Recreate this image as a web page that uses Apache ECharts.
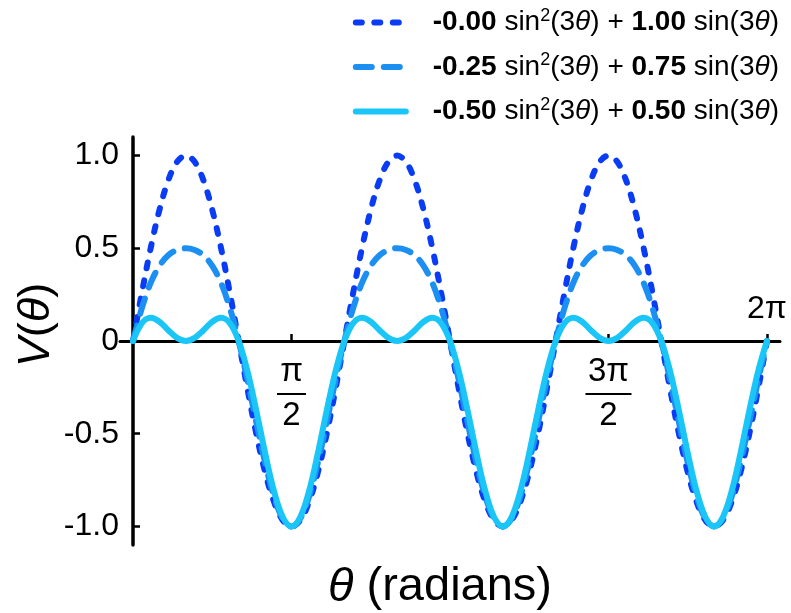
<!DOCTYPE html>
<html>
<head>
<meta charset="utf-8">
<script src="https://cdn.jsdelivr.net/npm/echarts@6/dist/echarts.min.js"></script>
<style>
  html, body { margin: 0; padding: 0; background: #fff; }
  #chart { width: 791px; height: 613px; }
</style>
</head>
<body>
<div id="chart"></div>
<script>
// theta in degrees (5 degree steps)
const theta = [0, 5, 10, 15, 20, 25, 30, 35, 40, 45, 50, 55, 60, 65, 70, 75, 80, 85, 90, 95, 100, 105, 110, 115,
  120, 125, 130, 135, 140, 145, 150, 155, 160, 165, 170, 175, 180, 185, 190, 195, 200, 205, 210, 215, 220, 225, 230, 235,
  240, 245, 250, 255, 260, 265, 270, 275, 280, 285, 290, 295, 300, 305, 310, 315, 320, 325, 330, 335, 340, 345, 350, 355,
  360];

// -0.00 sin^2 + 1.00 sin
const curveA = [0, 0.259, 0.5, 0.707, 0.866, 0.966, 1, 0.966, 0.866, 0.707, 0.5, 0.259,
  0, -0.259, -0.5, -0.707, -0.866, -0.966, -1, -0.966, -0.866, -0.707, -0.5, -0.259,
  0, 0.259, 0.5, 0.707, 0.866, 0.966, 1, 0.966, 0.866, 0.707, 0.5, 0.259,
  0, -0.259, -0.5, -0.707, -0.866, -0.966, -1, -0.966, -0.866, -0.707, -0.5, -0.259,
  0, 0.259, 0.5, 0.707, 0.866, 0.966, 1, 0.966, 0.866, 0.707, 0.5, 0.259,
  0, -0.259, -0.5, -0.707, -0.866, -0.966, -1, -0.966, -0.866, -0.707, -0.5, -0.259,
  0];

// -0.25 sin^2 + 0.75 sin
const curveB = [0, 0.177, 0.313, 0.405, 0.462, 0.491, 0.5, 0.491, 0.462, 0.405, 0.313, 0.177,
  0, -0.211, -0.438, -0.655, -0.837, -0.957, -1, -0.957, -0.837, -0.655, -0.438, -0.211,
  0, 0.177, 0.313, 0.405, 0.462, 0.491, 0.5, 0.491, 0.462, 0.405, 0.313, 0.177,
  0, -0.211, -0.438, -0.655, -0.837, -0.957, -1, -0.957, -0.837, -0.655, -0.438, -0.211,
  0, 0.177, 0.313, 0.405, 0.462, 0.491, 0.5, 0.491, 0.462, 0.405, 0.313, 0.177,
  0, -0.211, -0.438, -0.655, -0.837, -0.957, -1, -0.957, -0.837, -0.655, -0.438, -0.211,
  0];

// -0.50 sin^2 + 0.50 sin
const curveC = [0, 0.096, 0.125, 0.104, 0.058, 0.017, 0, 0.017, 0.058, 0.104, 0.125, 0.096,
  0, -0.163, -0.375, -0.604, -0.808, -0.949, -1, -0.949, -0.808, -0.604, -0.375, -0.163,
  0, 0.096, 0.125, 0.104, 0.058, 0.017, 0, 0.017, 0.058, 0.104, 0.125, 0.096,
  0, -0.163, -0.375, -0.604, -0.808, -0.949, -1, -0.949, -0.808, -0.604, -0.375, -0.163,
  0, 0.096, 0.125, 0.104, 0.058, 0.017, 0, 0.017, 0.058, 0.104, 0.125, 0.096,
  0, -0.163, -0.375, -0.604, -0.808, -0.949, -1, -0.949, -0.808, -0.604, -0.375, -0.163,
  0];

const coefSq = ['-0.00', '-0.25', '-0.50'];
const coefSin = ['1.00', '0.75', '0.50'];

const yTicks = [-1, -0.5, 0, 0.5, 1];
const yTickLabels = ['-1.0', '-0.5', '0', '0.5', '1.0'];

const xTicks = [90, 270, 360];
const xFracTicks = [90, 270];
const xFracNum = ['π', '3π'];
const xFracDen = ['2', '2'];
const xTopTicks = [360];
const xTopLabels = ['2π'];

const font = '"Liberation Sans", Arial, Helvetica, sans-serif';
const colors = ['#0a3cf6', '#1c8ff2', '#1ac5f7'];
const dashes = [[6, 12.5], [16, 12], 'solid'];
const curves = [curveA, curveB, curveC];

const names = coefSq.map((c, i) => c + ' sin²(3θ) + ' + coefSin[i] + ' sin(3θ)');

const chart = echarts.init(document.getElementById('chart'), null, { renderer: 'canvas' });

const series = curves.map((curve, i) => ({
  name: names[i],
  type: 'line',
  data: theta.map((t, j) => [t, curve[j]]),
  smooth: 0.35,
  symbol: 'none',
  showSymbol: false,
  animation: false,
  lineStyle: { color: colors[i], width: 6, type: dashes[i], cap: 'round', join: 'round' },
  itemStyle: { color: colors[i] },
  z: 2 + i
}));

// grid spans y -1.1..1.1 over 408px, x -7.4..367.4 over 660px
const zeroOffsetY = -204;
const zeroOffsetX = -13;

const txt = { fontFamily: font, fontSize: 28, color: '#000' };

const option = {
  backgroundColor: '#fff',
  animation: false,
  grid: { left: 120, right: 11, top: 137, bottom: 68, containLabel: false, outerBoundsMode: 'none' },
  legend: {
    orient: 'vertical',
    right: 7,
    top: 2,
    itemWidth: 50,
    itemHeight: 14,
    itemGap: 15,
    selectedMode: false,
    data: names,
    itemStyle: { opacity: 0 },
    lineStyle: { width: 6, cap: 'round' },
    formatter: name => {
      const i = names.indexOf(name);
      return '{b|' + coefSq[i] + '}{t| sin}{s|2}{t|(3}{i|θ}{t|) + }{b|' + coefSin[i] + '}{t| sin(3}{i|θ}{t|)}';
    },
    textStyle: {
      fontFamily: font, fontSize: 28, color: '#000', padding: [0, 0, 0, 22],
      rich: {
        b: Object.assign({}, txt, { fontWeight: 'bold' }),
        t: txt,
        i: Object.assign({}, txt, { fontStyle: 'italic' }),
        s: { fontFamily: font, fontSize: 18, color: '#000', verticalAlign: 'top', lineHeight: 31 }
      }
    }
  },
  xAxis: [
    {
      type: 'value',
      min: -7.4,
      max: 367.4,
      position: 'bottom',
      offset: zeroOffsetY,
      axisLine: { show: true, onZero: false, lineStyle: { color: '#000', width: 3 } },
      axisTick: { show: true, inside: true, length: 7, customValues: xTicks, lineStyle: { color: '#000', width: 2.5 } },
      axisLabel: {
        show: true,
        customValues: xFracTicks,
        margin: 15,
        formatter: v => {
          const i = xFracTicks.indexOf(v);
          return '{n|' + xFracNum[i] + '}\n{' + (i === 0 ? 'bar1' : 'bar3') + '|}\n{d|' + xFracDen[i] + '}';
        },
        rich: {
          n: { fontFamily: font, fontSize: 33, color: '#000', lineHeight: 32 },
          d: { fontFamily: font, fontSize: 33, color: '#000', lineHeight: 32 },
          bar1: { width: 29, height: 2, lineHeight: 12, backgroundColor: '#000' },
          bar3: { width: 46, height: 2, lineHeight: 12, backgroundColor: '#000' }
        }
      },
      splitLine: { show: false },
      name: '{i|θ}{r| (radians)}',
      nameLocation: 'middle',
      nameGap: 223,
      nameMoveOverlap: false,
      nameTextStyle: {
        padding: [0, 20, 0, 0],
        rich: {
          i: { fontFamily: font, fontSize: 47, fontStyle: 'italic', color: '#000' },
          r: { fontFamily: font, fontSize: 47, color: '#000' }
        }
      }
    },
    {
      type: 'value',
      min: -7.4,
      max: 367.4,
      position: 'top',
      offset: zeroOffsetY,
      axisLine: { show: false, onZero: false },
      axisTick: { show: false },
      axisLabel: {
        show: true,
        customValues: xTopTicks,
        margin: 16,
        formatter: v => xTopLabels[xTopTicks.indexOf(v)],
        fontFamily: font,
        fontSize: 32,
        color: '#000'
      },
      splitLine: { show: false }
    }
  ],
  yAxis: {
    type: 'value',
    min: -1.1,
    max: 1.1,
    position: 'left',
    offset: zeroOffsetX,
    axisLine: { show: true, onZero: false, lineStyle: { color: '#000', width: 3.5 } },
    axisTick: { show: true, inside: true, length: 7, customValues: yTicks, lineStyle: { color: '#000', width: 2.5 } },
    axisLabel: {
      show: true,
      customValues: yTicks,
      margin: 14,
      formatter: v => yTickLabels[yTicks.indexOf(v)],
      fontFamily: font,
      fontSize: 32,
      color: '#000'
    },
    splitLine: { show: false },
    name: '{i|V}{r|(}{i|θ}{r|)}',
    nameLocation: 'middle',
    nameGap: 74,
    nameMoveOverlap: false,
    nameTextStyle: {
      padding: [0, 0, 0, 32],
      rich: {
        i: { fontFamily: font, fontSize: 45, fontStyle: 'italic', color: '#000' },
        r: { fontFamily: font, fontSize: 45, color: '#000' }
      }
    }
  },
  series: series
};

chart.setOption(option);
</script>
</body>
</html>
